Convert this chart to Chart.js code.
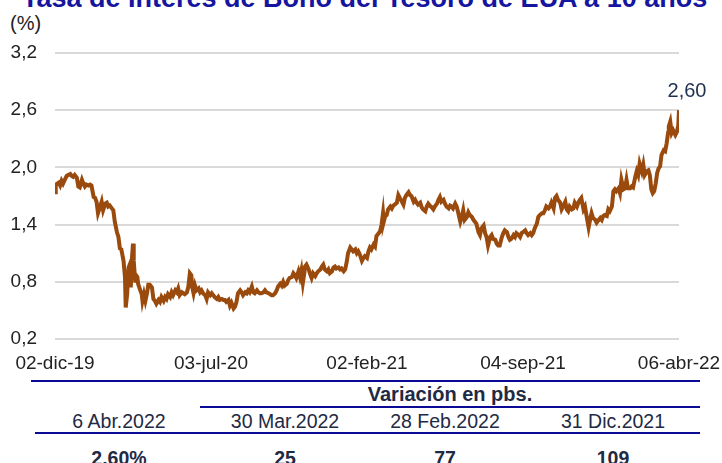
<!DOCTYPE html>
<html>
<head>
<meta charset="utf-8">
<script src="https://cdn.jsdelivr.net/npm/chart.js@4.4.1/dist/chart.umd.min.js"></script>
<style>
  body { margin: 0; background: #fff; }
  #wrap { position: relative; width: 722px; height: 463px; overflow: hidden; background: #fff; font-family: "Liberation Sans", Arial, sans-serif; }
  #chart-box { position: absolute; left: 0; top: 0; width: 722px; height: 380px; }
  .txt { position: absolute; white-space: nowrap; line-height: 20px; }
  #title { left: 22px; top: -17px; font-size: 27px; font-weight: bold; color: #1515a0; line-height: 30px; }
  #unit { left: 10px; top: 13px; font-size: 20px; color: #222; }
  .rule { position: absolute; background: #0a0a96; height: 2px; }
  .cell { position: absolute; width: 220px; text-align: center; line-height: 20px; color: #1f2a44; white-space: nowrap; }
</style>
</head>
<body>
<div id="wrap">
  <div id="title" class="txt">Tasa de Interés de Bono del Tesoro de EUA a 10 años</div>
  <div id="unit" class="txt">(%)</div>
  <div id="chart-box"><canvas id="yieldChart"></canvas></div>
  <div class="rule" style="left:31px; top:380px; width:669px;"></div>
  <div class="rule" style="left:200px; top:406px; width:500px;"></div>
  <div class="rule" style="left:35px; top:432px; width:665px;"></div>
  <div id="table"></div>
</div>
<script>
// days since 02-dic-19 and 10y yield (%)
const dayIdx = [
  0,1,5,7,9,11,14,16,18,21,23,25,27,30,32,34,37,39,41,43,46,48,50,53,55,57,59,62,64,66,
  69,71,73,75,78,80,82,85,87,89,91,94,96,97,99,101,103,104,105,107,108,110,111,113,114,117,119,120,122,124,
  126,128,130,133,135,137,139,142,144,146,149,151,153,155,158,160,162,165,167,169,
  171,174,176,178,181,183,185,187,188,190,192,194,197,199,201,203,206,208,210,213,215,217,219,222,224,226,229,231,233,235,
  238,240,242,245,247,249,251,254,256,258,261,263,265,267,270,272,274,277,279,281,283,286,288,290,293,295,297,299,302,304,
  306,309,311,313,315,318,320,322,325,327,329,331,334,336,338,
  340,342,343,345,348,350,352,354,357,359,361,364,366,368,370,373,375,377,380,382,384,386,389,391,393,396,398,400,402,405,
  407,409,412,414,416,418,421,423,425,428,430,432,434,437,439,441,444,446,448,450,451,453,455,457,460,462,464,466,469,471,
  473,476,478,480,482,485,487,489,492,494,496,498,501,503,505,508,510,
  512,514,517,519,521,524,526,528,530,533,535,537,540,542,544,546,549,551,553,556,558,560,562,565,567,569,572,574,576,578,
  581,583,585,588,590,592,594,597,599,601,604,606,608,610,613,615,617,620,622,624,626,629,631,633,636,638,640,642,645,647,
  649,652,654,656,658,661,663,665,668,670,672,674,677,679,
  681,684,686,688,690,693,695,697,700,702,704,706,709,711,713,716,718,720,722,725,727,729,732,734,736,738,741,743,745,748,
  750,752,754,757,759,761,764,766,768,770,773,775,777,780,782,784,786,789,791,793,796,798,800,802,805,807,809,812,814,816,
  818,820,822,824,826,828,830,832,835,837,839,841,842,844,846,848,851,853,855,856
];
const yield10y = [
  1.74,1.82,1.84,1.81,1.86,1.83,1.88,1.91,1.92,1.93,1.91,1.90,1.92,1.89,1.80,1.79,1.87,1.83,1.80,1.82,1.81,1.82,1.81,1.69,1.68,1.64,1.52,1.59,1.64,1.55,
  1.62,1.63,1.59,1.60,1.57,1.55,1.43,1.32,1.27,1.15,1.14,1.02,0.85,0.53,0.67,0.95,0.99,0.74,0.99,1.20,1.02,0.81,0.87,0.85,0.78,0.71,0.67,0.60,0.67,0.60,
  0.67,0.77,0.77,0.74,0.62,0.60,0.57,0.61,0.59,0.64,0.60,0.64,0.62,0.67,0.64,0.69,0.66,0.71,0.69,0.73,
  0.66,0.69,0.68,0.67,0.69,0.75,0.89,0.87,0.75,0.68,0.76,0.71,0.73,0.69,0.71,0.68,0.66,0.62,0.69,0.66,0.68,0.66,0.64,0.62,0.64,0.61,0.62,0.61,0.61,0.59,
  0.61,0.55,0.58,0.52,0.54,0.59,0.68,0.71,0.69,0.66,0.69,0.68,0.71,0.69,0.75,0.69,0.68,0.71,0.69,0.68,0.68,0.69,0.71,0.69,0.68,0.67,0.66,0.66,0.68,0.71,
  0.75,0.78,0.76,0.80,0.76,0.78,0.82,0.84,0.85,0.89,0.87,0.84,0.91,0.85,0.92,
  0.79,0.89,0.96,0.98,0.93,0.88,0.84,0.89,0.86,0.89,0.91,0.93,0.96,0.98,0.93,0.91,0.93,0.89,0.91,0.95,0.96,0.94,0.95,0.93,0.94,0.91,0.93,1.00,1.10,1.16,
  1.14,1.12,1.14,1.10,1.12,1.09,1.02,1.05,1.07,1.05,1.12,1.16,1.14,1.19,1.17,1.28,1.31,1.33,1.40,1.52,1.43,1.49,1.50,1.56,1.59,1.57,1.60,1.61,1.63,1.71,
  1.68,1.64,1.61,1.68,1.71,1.74,1.71,1.70,1.64,1.66,1.63,1.61,1.63,1.58,1.56,1.54,1.59,
  1.62,1.60,1.58,1.56,1.59,1.62,1.66,1.69,1.64,1.66,1.62,1.59,1.57,1.60,1.59,1.57,1.62,1.59,1.53,1.43,1.48,1.55,1.45,1.48,1.53,1.50,1.48,1.45,1.43,1.41,
  1.32,1.29,1.36,1.39,1.31,1.27,1.18,1.27,1.29,1.25,1.24,1.20,1.18,1.18,1.27,1.31,1.34,1.32,1.27,1.24,1.25,1.29,1.27,1.31,1.29,1.27,1.31,1.32,1.34,1.31,
  1.29,1.31,1.29,1.31,1.36,1.41,1.48,1.50,1.52,1.52,1.55,1.59,1.57,1.59,
  1.63,1.57,1.68,1.70,1.66,1.63,1.56,1.59,1.64,1.56,1.54,1.59,1.56,1.57,1.63,1.59,1.63,1.66,1.68,1.56,1.59,1.50,1.37,1.45,1.52,1.47,1.45,1.42,1.44,1.47,
  1.45,1.49,1.50,1.49,1.56,1.54,1.59,1.75,1.77,1.75,1.78,1.73,1.87,1.77,1.78,1.87,1.78,1.78,1.80,1.79,1.90,1.96,1.92,2.04,1.96,2.03,1.92,1.96,1.97,1.92,
  1.77,1.73,1.75,1.83,1.94,1.99,2.01,2.13,2.18,2.17,2.25,2.36,2.43,2.48,2.36,2.39,2.34,2.37,2.44,2.60
];

const xTickDays = [0, 214, 428, 642, 856];
const xTickLabels = ["02-dic-19", "03-jul-20", "02-feb-21", "04-sep-21", "06-abr-22"];
const yTicks = [0.2, 0.8, 1.4, 2.0, 2.6, 3.2];

const tableHeader = "Variación en pbs.";
const tableDates = ["6 Abr.2022", "30 Mar.2022", "28 Feb.2022", "31 Dic.2021"];
const tableValues = ["2.60%", "25", "77", "109"];

// table text
const colCenters = [119, 285, 445, 613];
const table = document.getElementById("table");
function addCell(text, cx, top, size, bold) {
  const d = document.createElement("div");
  d.className = "cell";
  d.textContent = text;
  d.style.left = (cx - 110) + "px";
  d.style.top = top + "px";
  d.style.fontSize = size + "px";
  if (bold) d.style.fontWeight = "bold";
  table.appendChild(d);
}
addCell(tableHeader, 450, 384, 20, true);
tableDates.forEach((t, i) => addCell(t, colCenters[i], 411, 19.5, false));
tableValues.forEach((t, i) => addCell(t, colCenters[i], 448, 19.5, true));

const FONT = "'Liberation Sans', Arial, sans-serif";

// last value label
const lastLabel = {
  id: "lastLabel",
  afterDatasetsDraw(chart) {
    const meta = chart.getDatasetMeta(0);
    const pt = meta.data[meta.data.length - 1];
    const v = yield10y[yield10y.length - 1];
    const ctx = chart.ctx;
    ctx.save();
    ctx.font = "20px " + FONT;
    ctx.fillStyle = "#1f2f4f";
    ctx.textAlign = "center";
    ctx.textBaseline = "alphabetic";
    ctx.fillText(v.toFixed(2).replace(".", ","), pt.x + 8, pt.y - 13);
    ctx.restore();
  }
};

new Chart(document.getElementById("yieldChart"), {
  type: "line",
  data: {
    datasets: [{
      data: dayIdx.map((d, i) => ({ x: d, y: yield10y[i] })),
      borderColor: "#994a0c",
      borderWidth: 4,
      pointRadius: 0,
      tension: 0,
      fill: false,
    }],
  },
  options: {
    responsive: true,
    maintainAspectRatio: false,
    animation: false,
    layout: { padding: { left: 0, right: 43, top: 53, bottom: 0 } },
    plugins: { legend: { display: false }, tooltip: { enabled: false } },
    scales: {
      x: {
        type: "linear",
        min: 0,
        max: 856,
        grid: { display: false, drawTicks: false },
        border: { display: false },
        afterBuildTicks: (s) => { s.ticks = xTickDays.map((v) => ({ value: v })); },
        afterFit: (s) => { s.height = 41; s.paddingLeft = 0; s.paddingRight = 0; },
        ticks: {
          autoSkip: false,
          maxRotation: 0,
          padding: 13,
          color: "#222",
          font: { family: FONT, size: 19 },
          callback: (v) => xTickLabels[xTickDays.indexOf(v)],
        },
      },
      y: {
        min: 0.2,
        max: 3.2,
        grid: { color: "#d9d9d9", lineWidth: 2, drawTicks: false },
        border: { display: false },
        afterBuildTicks: (s) => { s.ticks = yTicks.map((v) => ({ value: v })); },
        afterFit: (s) => { s.width = 55; s.paddingTop = 0; s.paddingBottom = 0; },
        ticks: {
          padding: 18,
          color: "#222",
          font: { family: FONT, size: 19 },
          callback: (v) => Number(v).toFixed(1).replace(".", ","),
        },
      },
    },
  },
  plugins: [lastLabel],
});
</script>
</body>
</html>
